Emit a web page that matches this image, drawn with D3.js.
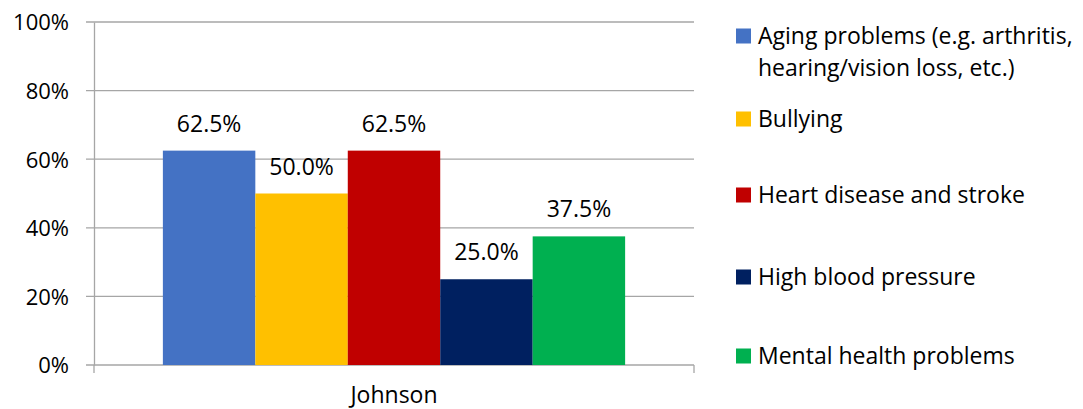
<!DOCTYPE html>
<html>
<head>
<meta charset="utf-8">
<script src="https://cdn.jsdelivr.net/npm/d3@7"></script>
<style>
  body { margin: 0; background: #fff; }
  svg text { font-family: "Open Sans", sans-serif; fill: #000; }
</style>
</head>
<body>
<svg id="chart" width="1083" height="409"></svg>
<script>
// data
var categories = ["Johnson"];
var seriesNames = [
    "Aging problems (e.g. arthritis, hearing/vision loss, etc.)",
    "Bullying",
    "Heart disease and stroke",
    "High blood pressure",
    "Mental health problems"
];
var legendLines = [
    ["Aging problems (e.g. arthritis,", "hearing/vision loss, etc.)"],
    ["Bullying"],
    ["Heart disease and stroke"],
    ["High blood pressure"],
    ["Mental health problems"]
];
var seriesValues = [62.5, 50.0, 62.5, 25.0, 37.5];
var seriesColors = ["#4472C4", "#FFC000", "#C00000", "#002060", "#00B050"];
var yTicks = [0, 20, 40, 60, 80, 100];

drawBars = function () {
    var svg = d3.select("#chart");
    var margin = { top: 22, left: 94, right: 389, bottom: 44 },
        width = 1083 - margin.left - margin.right,
        height = 409 - margin.top - margin.bottom;

    var g = svg.append("g")
        .attr("transform", "translate(" + margin.left + "," + margin.top + ")");

    var x = d3.scaleBand()
        .domain(categories)
        .range([0, width])
        .paddingInner(0)
        .paddingOuter(0.149);

    var xSub = d3.scaleBand()
        .domain(seriesNames)
        .range([0, x.bandwidth()]);

    var y = d3.scaleLinear()
        .domain([0, 100])
        .range([height, 0]);

    // gridlines
    g.append("g")
        .selectAll("line")
        .data(yTicks)
        .enter()
        .append("line")
        .attr("x1", -8)
        .attr("x2", width)
        .attr("y1", function (d) { return y(d); })
        .attr("y2", function (d) { return y(d); })
        .attr("stroke", "#A6A6A6")
        .attr("stroke-width", 1.3);

    // y axis
    var yAxis = g.append("g")
        .call(d3.axisLeft(y)
            .tickValues(yTicks)
            .tickSize(0)
            .tickPadding(25)
            .tickFormat(function (d) { return d + "%"; }));
    yAxis.select(".domain").attr("stroke", "#A6A6A6").attr("stroke-width", 1.3);
    yAxis.selectAll("text")
        .style("font-family", "Open Sans")
        .style("font-size", "22px")
        .attr("dy", "0.36em");

    // x axis
    var xAxis = g.append("g")
        .attr("transform", "translate(0," + height + ")")
        .call(d3.axisBottom(x).tickSize(0).tickPadding(22));
    xAxis.select(".domain").remove();
    xAxis.selectAll("text")
        .style("font-family", "Open Sans")
        .style("font-size", "23px");
    g.append("g")
        .selectAll("line")
        .data([0, width])
        .enter()
        .append("line")
        .attr("x1", function (d) { return d; })
        .attr("x2", function (d) { return d; })
        .attr("y1", height)
        .attr("y2", height + 8)
        .attr("stroke", "#A6A6A6")
        .attr("stroke-width", 1.3);

    // bars
    var grp = g.append("g")
        .attr("transform", "translate(" + x(categories[0]) + ",0)");

    grp.selectAll("rect")
        .data(seriesValues)
        .enter()
        .append("rect")
        .attr("x", function (d, i) { return xSub(seriesNames[i]); })
        .attr("y", function (d) { return y(d); })
        .attr("width", xSub.bandwidth())
        .attr("height", function (d) { return height - y(d); })
        .attr("fill", function (d, i) { return seriesColors[i]; });

    grp.selectAll("text.lbl")
        .data(seriesValues)
        .enter()
        .append("text")
        .attr("class", "lbl")
        .attr("x", function (d, i) { return xSub(seriesNames[i]) + xSub.bandwidth() / 2; })
        .attr("y", function (d) { return y(d) - 19; })
        .attr("text-anchor", "middle")
        .style("font-size", "23px")
        .text(function (d) { return d.toFixed(1) + "%"; });

    // legend
    var legendY = [36, 119, 195, 277, 356];
    var leg = svg.append("g")
        .selectAll("g")
        .data(seriesNames)
        .enter()
        .append("g")
        .attr("transform", function (d, i) { return "translate(736," + legendY[i] + ")"; });

    leg.append("rect")
        .attr("x", 0)
        .attr("y", -7.5)
        .attr("width", 15)
        .attr("height", 15)
        .attr("fill", function (d, i) { return seriesColors[i]; });

    leg.append("text")
        .attr("x", 22)
        .attr("y", 7.5)
        .style("font-size", "23px")
        .selectAll("tspan")
        .data(function (d, i) { return legendLines[i]; })
        .enter()
        .append("tspan")
        .attr("x", 22)
        .attr("dy", function (d, j) { return j === 0 ? 0 : 32; })
        .text(function (d) { return d; });
}

drawBars();
</script>
</body>
</html>
